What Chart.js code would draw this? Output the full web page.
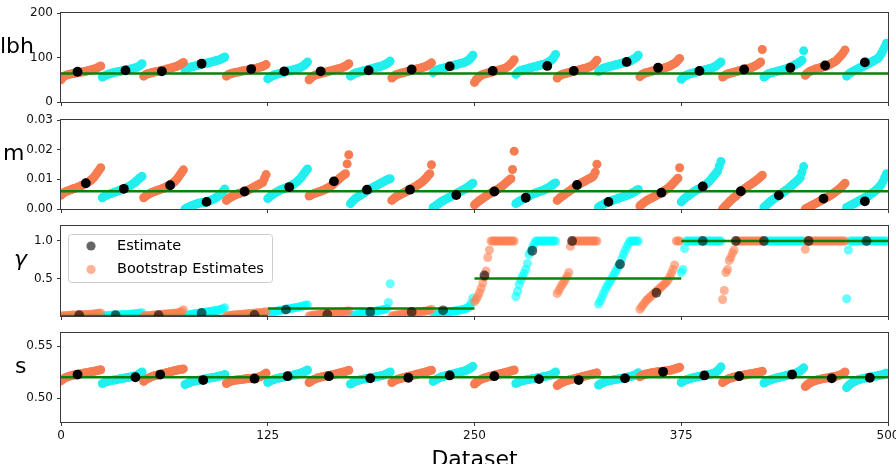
<!DOCTYPE html>
<html><head><meta charset="utf-8">
<script src="https://cdn.jsdelivr.net/npm/chart.js@4/dist/chart.umd.min.js"></script>
<style>
body{margin:0;background:#fff;width:896px;height:464px;overflow:hidden;position:relative;}
canvas{position:absolute;left:0;}
</style></head><body>
<canvas id="c1"></canvas><canvas id="c2"></canvas><canvas id="c3"></canvas><canvas id="c4"></canvas>
<script>
// ---------------- DATA ----------------
const X_TICKS = [0, 125, 250, 375, 500];
const GROUP_SIZE = 25;
const TRUE_SEG_X = [0, 125, 250, 375, 500];

const LBH_TICKS = [0, 100, 200];
const M_TICKS = [0, 0.01, 0.02, 0.03];
const GAMMA_TICKS = [0.5, 1.0];
const S_TICKS = [0.50, 0.55];

const LBH_TRUE = [64, 64, 64, 64];
const M_TRUE = [0.006, 0.006, 0.006, 0.006];
const GAMMA_TRUE = [0.0, 0.1, 0.5, 1.0];
const S_TRUE = [0.52, 0.52, 0.52, 0.52];

const LBH_BOOT = [
[50,55,58,60,61,62,63,64,64,65,66,66,67,68,68,69,70,71,72,73,74,75,77,79,81],
[56,58,60,62,63,64,65,66,67,68,68,69,70,71,71,72,73,74,75,76,77,78,80,83,86],
[58,61,63,64,65,66,67,68,68,69,70,71,72,73,74,75,76,77,78,79,80,82,84,86,89],
[72,75,77,78,79,80,81,82,83,84,85,86,87,87,88,89,90,91,92,93,94,95,97,99,101],
[58,61,63,64,65,66,67,67,68,69,70,70,71,72,72,73,74,75,76,77,78,79,80,82,84],
[52,55,57,59,61,62,63,64,65,66,67,68,69,70,71,72,73,74,75,76,78,80,83,86,90],
[50,54,57,59,61,62,63,64,65,66,67,68,69,70,71,72,73,74,75,76,77,79,81,83,86],
[58,61,63,65,66,67,68,69,70,71,72,73,74,75,76,77,78,79,80,81,83,84,86,89,92],
[54,57,60,62,63,64,65,66,67,68,69,70,71,72,73,74,75,76,77,78,79,81,83,85,88],
[66,69,71,73,74,75,76,77,78,79,80,81,82,83,84,85,86,87,88,89,91,93,96,100,105],
[44,50,54,57,60,62,63,64,65,66,67,68,69,70,71,72,73,74,75,77,79,82,86,90,95],
[62,66,69,71,72,73,74,75,76,77,78,79,80,81,82,83,84,85,86,88,90,93,96,101,107],
[54,58,60,62,63,64,65,66,67,68,69,70,71,72,73,74,75,76,77,78,80,82,85,89,94],
[68,72,74,76,77,78,79,80,81,82,83,84,85,86,87,88,89,90,91,92,94,96,98,101,105],
[57,61,63,65,66,67,68,69,70,71,72,73,74,75,76,77,78,79,81,83,85,87,90,94,98],
[51,55,58,60,62,63,64,65,66,67,68,69,70,71,72,73,74,75,76,77,79,81,84,87,90],
[56,59,61,63,64,65,66,67,68,69,70,71,72,73,74,75,76,77,78,80,82,84,87,90,118],
[56,59,62,64,65,66,67,68,69,70,71,72,73,74,75,77,78,80,82,84,86,88,91,94,115],
[60,64,67,69,71,72,74,75,76,77,78,79,80,81,83,85,87,89,91,94,98,102,106,111,117],
[58,62,65,67,69,71,73,75,77,78,80,82,84,86,88,90,92,94,96,98,103,109,116,124,132]
];
const LBH_EST_X = [10,39,61,85,115,135,157,186,212,235,261,294,310,342,361,386,413,441,462,486];
const LBH_EST_Y = [68,71,69,86,74,69,69,71,73,80,70,81,70,90,77,70,73,77,82,89];

const M_BOOT = [
[0.0046,0.0052,0.0056,0.0059,0.0061,0.0063,0.0065,0.0067,0.0069,0.0071,0.0073,0.0075,0.0078,0.0080,0.0083,0.0086,0.0089,0.0093,0.0097,0.0102,0.0108,0.0115,0.0123,0.0131,0.0139],
[0.0038,0.0042,0.0045,0.0048,0.0050,0.0052,0.0054,0.0056,0.0058,0.0060,0.0062,0.0064,0.0066,0.0068,0.0070,0.0073,0.0076,0.0079,0.0083,0.0087,0.0091,0.0096,0.0101,0.0106,0.0110],
[0.0038,0.0043,0.0047,0.0050,0.0053,0.0056,0.0058,0.0060,0.0062,0.0064,0.0066,0.0068,0.0070,0.0073,0.0076,0.0078,0.0081,0.0085,0.0089,0.0094,0.0100,0.0108,0.0116,0.0124,0.0132],
[0.0000,0.0003,0.0006,0.0009,0.0011,0.0013,0.0015,0.0017,0.0019,0.0020,0.0021,0.0022,0.0023,0.0024,0.0026,0.0028,0.0030,0.0033,0.0036,0.0039,0.0043,0.0048,0.0054,0.0060,0.0067],
[0.0029,0.0034,0.0038,0.0041,0.0044,0.0047,0.0049,0.0051,0.0053,0.0055,0.0057,0.0059,0.0061,0.0063,0.0066,0.0069,0.0072,0.0075,0.0078,0.0081,0.0084,0.0087,0.0090,0.0103,0.0116],
[0.0035,0.0040,0.0045,0.0049,0.0053,0.0056,0.0059,0.0062,0.0065,0.0067,0.0069,0.0071,0.0073,0.0075,0.0078,0.0081,0.0085,0.0089,0.0094,0.0099,0.0105,0.0112,0.0120,0.0128,0.0135],
[0.0044,0.0047,0.0050,0.0052,0.0054,0.0056,0.0058,0.0060,0.0062,0.0064,0.0067,0.0070,0.0073,0.0077,0.0081,0.0086,0.0091,0.0096,0.0101,0.0106,0.0111,0.0115,0.0119,0.0152,0.0183],
[0.0018,0.0025,0.0030,0.0035,0.0039,0.0043,0.0047,0.0050,0.0054,0.0058,0.0062,0.0065,0.0068,0.0071,0.0074,0.0077,0.0080,0.0083,0.0086,0.0089,0.0092,0.0095,0.0098,0.0100,0.0102],
[0.0029,0.0034,0.0038,0.0042,0.0045,0.0048,0.0051,0.0054,0.0057,0.0060,0.0063,0.0066,0.0069,0.0072,0.0075,0.0078,0.0082,0.0086,0.0090,0.0095,0.0100,0.0106,0.0113,0.0119,0.0149],
[0.0005,0.0009,0.0013,0.0017,0.0021,0.0025,0.0028,0.0031,0.0034,0.0037,0.0040,0.0043,0.0046,0.0049,0.0052,0.0055,0.0058,0.0061,0.0064,0.0067,0.0070,0.0074,0.0078,0.0083,0.0087],
[0.0014,0.0019,0.0024,0.0028,0.0032,0.0036,0.0040,0.0044,0.0048,0.0051,0.0054,0.0057,0.0060,0.0063,0.0066,0.0070,0.0074,0.0078,0.0083,0.0088,0.0093,0.0098,0.0102,0.0133,0.0195],
[0.0018,0.0022,0.0026,0.0029,0.0032,0.0035,0.0038,0.0041,0.0044,0.0047,0.0050,0.0052,0.0054,0.0056,0.0058,0.0060,0.0062,0.0064,0.0067,0.0070,0.0073,0.0077,0.0081,0.0085,0.0088],
[0.0029,0.0034,0.0039,0.0043,0.0047,0.0051,0.0055,0.0059,0.0063,0.0067,0.0071,0.0075,0.0079,0.0083,0.0086,0.0089,0.0092,0.0095,0.0098,0.0101,0.0104,0.0107,0.0112,0.0124,0.0151],
[0.0006,0.0010,0.0013,0.0016,0.0019,0.0022,0.0024,0.0026,0.0028,0.0030,0.0032,0.0034,0.0036,0.0038,0.0040,0.0042,0.0044,0.0046,0.0048,0.0050,0.0053,0.0056,0.0059,0.0063,0.0066],
[0.0010,0.0015,0.0020,0.0024,0.0028,0.0031,0.0034,0.0037,0.0040,0.0043,0.0046,0.0049,0.0052,0.0055,0.0058,0.0062,0.0066,0.0070,0.0075,0.0080,0.0086,0.0092,0.0098,0.0104,0.0139],
[0.0024,0.0030,0.0035,0.0040,0.0044,0.0048,0.0052,0.0056,0.0060,0.0063,0.0066,0.0069,0.0072,0.0075,0.0079,0.0083,0.0088,0.0094,0.0100,0.0107,0.0114,0.0121,0.0128,0.0145,0.0160],
[0.0000,0.0006,0.0012,0.0018,0.0024,0.0029,0.0034,0.0039,0.0044,0.0049,0.0054,0.0059,0.0063,0.0067,0.0071,0.0075,0.0079,0.0083,0.0087,0.0091,0.0095,0.0099,0.0104,0.0109,0.0114],
[0.0006,0.0011,0.0016,0.0021,0.0026,0.0030,0.0034,0.0038,0.0042,0.0046,0.0050,0.0054,0.0058,0.0062,0.0066,0.0070,0.0075,0.0080,0.0085,0.0090,0.0095,0.0100,0.0106,0.0124,0.0143],
[0.0000,0.0003,0.0006,0.0009,0.0012,0.0015,0.0018,0.0021,0.0024,0.0027,0.0030,0.0033,0.0036,0.0039,0.0042,0.0045,0.0049,0.0053,0.0057,0.0061,0.0065,0.0070,0.0075,0.0081,0.0087],
[0.0005,0.0008,0.0011,0.0014,0.0017,0.0020,0.0023,0.0026,0.0029,0.0032,0.0035,0.0038,0.0041,0.0044,0.0048,0.0052,0.0056,0.0060,0.0065,0.0070,0.0076,0.0083,0.0093,0.0106,0.0119]
];
const M_EST_X = [15,38,66,88,111,138,165,185,211,239,262,281,312,331,363,388,411,434,461,486];
const M_EST_Y = [0.0087,0.0068,0.0080,0.0024,0.0059,0.0074,0.0093,0.0065,0.0065,0.0047,0.0059,0.0038,0.0081,0.0024,0.0055,0.0076,0.0060,0.0046,0.0035,0.0026];

const GAMMA_BOOT = [
[0.000,0.002,0.004,0.006,0.008,0.010,0.011,0.012,0.013,0.014,0.015,0.016,0.017,0.018,0.019,0.020,0.021,0.022,0.023,0.025,0.027,0.029,0.032,0.036,0.040],
[0.000,0.002,0.004,0.006,0.008,0.010,0.012,0.013,0.014,0.015,0.016,0.017,0.018,0.019,0.020,0.021,0.022,0.024,0.026,0.028,0.030,0.033,0.036,0.040,0.045],
[0.000,0.002,0.004,0.006,0.008,0.010,0.012,0.014,0.016,0.018,0.020,0.022,0.024,0.026,0.028,0.030,0.032,0.034,0.036,0.038,0.041,0.045,0.050,0.060,0.085],
[0.005,0.010,0.015,0.020,0.024,0.028,0.032,0.035,0.038,0.041,0.044,0.047,0.050,0.053,0.056,0.059,0.062,0.066,0.070,0.074,0.078,0.083,0.090,0.098,0.110],
[0.000,0.003,0.006,0.009,0.012,0.014,0.016,0.018,0.020,0.022,0.024,0.026,0.028,0.030,0.032,0.034,0.036,0.038,0.040,0.042,0.044,0.046,0.048,0.052,0.056],
[0.020,0.030,0.040,0.048,0.055,0.061,0.067,0.072,0.077,0.081,0.085,0.089,0.093,0.097,0.101,0.105,0.109,0.113,0.117,0.121,0.126,0.131,0.137,0.143,0.150],
[0.000,0.004,0.008,0.012,0.015,0.018,0.021,0.024,0.027,0.030,0.032,0.034,0.036,0.038,0.040,0.042,0.044,0.046,0.048,0.050,0.053,0.056,0.060,0.065,0.070],
[0.000,0.005,0.010,0.015,0.020,0.024,0.028,0.032,0.036,0.040,0.044,0.048,0.052,0.056,0.060,0.064,0.068,0.072,0.076,0.080,0.085,0.090,0.100,0.180,0.430],
[0.000,0.004,0.008,0.012,0.016,0.020,0.023,0.026,0.029,0.032,0.035,0.038,0.041,0.044,0.047,0.050,0.053,0.056,0.059,0.062,0.065,0.068,0.072,0.080,0.090],
[0.010,0.015,0.020,0.025,0.030,0.034,0.038,0.042,0.046,0.050,0.054,0.058,0.062,0.066,0.070,0.074,0.078,0.083,0.088,0.094,0.100,0.110,0.130,0.170,0.240],
[0.19,0.22,0.26,0.31,0.37,0.44,0.52,0.60,0.78,0.88,1,1,1,1,1,1,1,1,1,1,1,1,1,1,1],
[0.26,0.33,0.42,0.48,0.53,0.57,0.62,0.70,0.82,0.86,0.91,0.96,1,1,1,1,1,1,1,1,1,1,1,1,1],
[0.30,0.34,0.38,0.42,0.45,0.49,0.53,0.58,0.93,1,1,1,1,1,1,1,1,1,1,1,1,1,1,1,1],
[0.16,0.20,0.25,0.30,0.35,0.39,0.43,0.46,0.50,0.54,0.58,0.62,0.66,0.70,0.76,0.82,0.87,0.92,0.96,1,1,1,1,1,1],
[0.09,0.12,0.15,0.18,0.21,0.23,0.25,0.27,0.29,0.31,0.33,0.35,0.37,0.39,0.41,0.43,0.45,0.48,0.52,0.57,0.62,0.68,1,1,1],
[0.58,0.62,0.90,1,1,1,1,1,1,1,1,1,1,1,1,1,1,1,1,1,1,1,1,1,1],
[0.22,0.34,0.58,0.62,0.74,0.78,0.84,0.88,1,1,1,1,1,1,1,1,1,1,1,1,1,1,1,1,1],
[1,1,1,1,1,1,1,1,1,1,1,1,1,1,1,1,1,1,1,1,1,1,1,1,1],
[0.89,1,1,1,1,1,1,1,1,1,1,1,1,1,1,1,1,1,1,1,1,1,1,1,1],
[0.23,0.88,1,1,1,1,1,1,1,1,1,1,1,1,1,1,1,1,1,1,1,1,1,1,1]
];
const GAMMA_EST_X = [11,33,59,85,117,136,161,187,212,231,256,285,309,338,360,388,408,425,452,487];
const GAMMA_EST_Y = [0.010,0.010,0.010,0.040,0.015,0.085,0.020,0.054,0.054,0.076,0.54,0.87,1.0,0.69,0.31,1.0,1.0,1.0,1.0,1.0];

const S_BOOT = [
[0.5165,0.5180,0.5190,0.5198,0.5204,0.5210,0.5215,0.5219,0.5222,0.5225,0.5228,0.5231,0.5234,0.5237,0.5240,0.5243,0.5246,0.5249,0.5252,0.5255,0.5258,0.5261,0.5264,0.5268,0.5272],
[0.5140,0.5148,0.5154,0.5159,0.5163,0.5167,0.5170,0.5173,0.5176,0.5179,0.5182,0.5185,0.5188,0.5191,0.5194,0.5197,0.5200,0.5203,0.5206,0.5209,0.5213,0.5218,0.5230,0.5240,0.5250],
[0.5160,0.5175,0.5185,0.5193,0.5200,0.5206,0.5211,0.5216,0.5220,0.5224,0.5228,0.5232,0.5236,0.5240,0.5244,0.5248,0.5252,0.5256,0.5260,0.5264,0.5268,0.5271,0.5274,0.5277,0.5280],
[0.5130,0.5138,0.5145,0.5151,0.5156,0.5160,0.5164,0.5168,0.5171,0.5174,0.5177,0.5180,0.5183,0.5186,0.5189,0.5192,0.5195,0.5198,0.5201,0.5204,0.5207,0.5211,0.5215,0.5220,0.5226],
[0.5140,0.5150,0.5158,0.5163,0.5167,0.5170,0.5173,0.5175,0.5177,0.5179,0.5181,0.5183,0.5185,0.5187,0.5189,0.5191,0.5193,0.5195,0.5197,0.5200,0.5204,0.5210,0.5218,0.5228,0.5240],
[0.5150,0.5160,0.5168,0.5175,0.5180,0.5185,0.5189,0.5193,0.5197,0.5200,0.5203,0.5206,0.5209,0.5212,0.5215,0.5218,0.5222,0.5226,0.5230,0.5235,0.5240,0.5246,0.5252,0.5260,0.5270],
[0.5150,0.5162,0.5171,0.5179,0.5186,0.5192,0.5197,0.5201,0.5205,0.5208,0.5211,0.5214,0.5217,0.5220,0.5223,0.5227,0.5231,0.5235,0.5239,0.5243,0.5247,0.5251,0.5256,0.5261,0.5267],
[0.5135,0.5145,0.5153,0.5160,0.5166,0.5171,0.5175,0.5179,0.5182,0.5185,0.5188,0.5191,0.5194,0.5197,0.5200,0.5203,0.5206,0.5209,0.5212,0.5216,0.5220,0.5226,0.5233,0.5241,0.5250],
[0.5150,0.5162,0.5170,0.5177,0.5183,0.5188,0.5192,0.5196,0.5200,0.5204,0.5208,0.5212,0.5216,0.5220,0.5224,0.5228,0.5232,0.5236,0.5240,0.5244,0.5248,0.5252,0.5257,0.5262,0.5267],
[0.5160,0.5172,0.5181,0.5189,0.5196,0.5202,0.5207,0.5212,0.5216,0.5220,0.5224,0.5228,0.5232,0.5236,0.5240,0.5244,0.5248,0.5252,0.5256,0.5261,0.5267,0.5274,0.5283,0.5294,0.5305],
[0.5135,0.5150,0.5162,0.5172,0.5180,0.5187,0.5193,0.5198,0.5203,0.5207,0.5211,0.5215,0.5219,0.5223,0.5227,0.5231,0.5235,0.5239,0.5243,0.5247,0.5251,0.5255,0.5259,0.5264,0.5270],
[0.5140,0.5148,0.5155,0.5161,0.5166,0.5170,0.5173,0.5176,0.5179,0.5182,0.5185,0.5188,0.5191,0.5194,0.5197,0.5200,0.5203,0.5206,0.5209,0.5212,0.5216,0.5221,0.5228,0.5238,0.5250],
[0.5120,0.5132,0.5142,0.5150,0.5157,0.5163,0.5168,0.5173,0.5177,0.5181,0.5185,0.5189,0.5193,0.5197,0.5201,0.5205,0.5209,0.5213,0.5217,0.5221,0.5225,0.5229,0.5233,0.5237,0.5242],
[0.5125,0.5135,0.5143,0.5150,0.5156,0.5161,0.5165,0.5169,0.5172,0.5175,0.5178,0.5181,0.5184,0.5187,0.5190,0.5193,0.5196,0.5199,0.5202,0.5206,0.5210,0.5215,0.5222,0.5231,0.5242],
[0.5205,0.5215,0.5222,0.5228,0.5232,0.5236,0.5239,0.5242,0.5245,0.5248,0.5250,0.5252,0.5254,0.5256,0.5258,0.5260,0.5262,0.5264,0.5267,0.5270,0.5274,0.5278,0.5283,0.5289,0.5296],
[0.5150,0.5160,0.5168,0.5175,0.5181,0.5186,0.5190,0.5194,0.5198,0.5202,0.5205,0.5208,0.5211,0.5214,0.5217,0.5220,0.5223,0.5227,0.5231,0.5235,0.5240,0.5250,0.5262,0.5280,0.5300],
[0.5150,0.5162,0.5172,0.5180,0.5187,0.5193,0.5198,0.5202,0.5206,0.5209,0.5212,0.5215,0.5218,0.5221,0.5224,0.5227,0.5230,0.5233,0.5236,0.5239,0.5242,0.5245,0.5248,0.5253,0.5258],
[0.5145,0.5155,0.5163,0.5170,0.5176,0.5181,0.5186,0.5190,0.5194,0.5198,0.5202,0.5206,0.5210,0.5214,0.5218,0.5222,0.5226,0.5230,0.5234,0.5239,0.5245,0.5252,0.5262,0.5275,0.5290],
[0.5110,0.5125,0.5137,0.5147,0.5155,0.5162,0.5168,0.5173,0.5177,0.5181,0.5184,0.5187,0.5190,0.5193,0.5196,0.5199,0.5202,0.5205,0.5208,0.5212,0.5216,0.5221,0.5228,0.5238,0.5250],
[0.5100,0.5118,0.5132,0.5144,0.5154,0.5162,0.5169,0.5175,0.5180,0.5184,0.5188,0.5191,0.5194,0.5197,0.5200,0.5203,0.5206,0.5209,0.5212,0.5215,0.5218,0.5222,0.5227,0.5233,0.5240]
];
const S_EST_X = [10,45,60,86,117,137,162,187,210,235,262,289,313,341,364,389,410,442,466,489];
const S_EST_Y = [0.5226,0.5200,0.5226,0.5173,0.5186,0.5210,0.5210,0.5190,0.5195,0.5217,0.5210,0.5182,0.5173,0.5190,0.5252,0.5217,0.5210,0.5226,0.5190,0.5195];

// ---------------- STYLE / LAYOUT ----------------
const FONT = '"DejaVu Sans", "Liberation Sans", sans-serif';
const ORANGE = '#f77b50', CYAN = '#22eeee';
const ORANGE_A = 'rgba(255,127,80,0.6)', CYAN_A = 'rgba(0,255,255,0.6)';
const PLOT_LEFT = 61, PLOT_RIGHT_PAD = 8;
const BOOT_R = 4.5, EST_R = 4.9;

function bootPoints(boot, parity) {
  const pts = [];
  boot.forEach((grp, g) => {
    if (g % 2 !== parity) return;
    grp.forEach((v, j) => pts.push({x: g * GROUP_SIZE + j, y: v}));
  });
  return pts;
}
function truePoints(vals) {
  const pts = [];
  vals.forEach((v, k) => {
    pts.push({x: TRUE_SEG_X[k], y: v}, {x: TRUE_SEG_X[k + 1], y: v}, {x: TRUE_SEG_X[k + 1], y: null});
  });
  return pts;
}
function estPoints(xs, ys) { return xs.map((x, i) => ({x, y: ys[i]})); }

const decoPlugin = {
  id: 'deco',
  afterDatasetsDraw(chart, args, o) {
    const {ctx, chartArea: a} = chart;
    ctx.save();
    ctx.strokeStyle = '#3a3a3a'; ctx.lineWidth = 1;
    ctx.strokeRect(Math.round(a.left) - 0.5, Math.round(a.top) - 0.5,
                   Math.round(a.right) - Math.round(a.left) + 1, Math.round(a.bottom) - Math.round(a.top) + 1);
    ctx.fillStyle = '#000';
    ctx.font = (o.italic ? 'italic ' : '') + '22px ' + FONT;
    ctx.textAlign = 'left'; ctx.textBaseline = 'alphabetic';
    ctx.fillText(o.label, o.lx, a.top + o.ly);
    if (o.legend) {
      const bx = 68, by = a.top + 8, bw = 204, bh = 48;
      ctx.beginPath();
      ctx.roundRect(bx + 0.5, by + 0.5, bw, bh, 3);
      ctx.fillStyle = 'rgba(255,255,255,0.8)'; ctx.fill();
      ctx.strokeStyle = '#cccccc'; ctx.stroke();
      const items = [['Estimate', 'rgba(0,0,0,0.6)'], ['Bootstrap Estimates', ORANGE_A]];
      items.forEach((it, i) => {
        const cy = by + 12 + i * 23.5;
        ctx.beginPath(); ctx.arc(91, cy, 4.6, 0, Math.PI * 2);
        ctx.fillStyle = it[1]; ctx.fill();
        ctx.fillStyle = '#000'; ctx.font = '14.5px ' + FONT;
        ctx.textBaseline = 'middle';
        ctx.fillText(it[0], 117, cy);
      });
    }
    if (o.title) {
      ctx.font = '22px ' + FONT; ctx.fillStyle = '#000';
      ctx.textAlign = 'center'; ctx.textBaseline = 'alphabetic';
      ctx.fillText(o.title, (a.left + a.right) / 2, chart.height + 2);
    }
    ctx.restore();
  }
};

const PANELS = [
  {id: 'c1', top: 0, h: 112, plotTop: 13, xH: 10, boot: LBH_BOOT, ex: LBH_EST_X, ey: LBH_EST_Y, tv: LBH_TRUE,
   ymin: 0, ymax: 200, yt: LBH_TICKS, fmt: v => String(v), label: 'lbh', lx: 0, transparent: false, xlabels: false},
  {id: 'c2', top: 112, h: 107, plotTop: 120, xH: 10, boot: M_BOOT, ex: M_EST_X, ey: M_EST_Y, tv: M_TRUE,
   ymin: 0, ymax: 0.03, yt: M_TICKS, fmt: v => v.toFixed(2), label: 'm', lx: 3, transparent: false, xlabels: false},
  {id: 'c3', top: 219, h: 107, plotTop: 226, xH: 10, boot: GAMMA_BOOT, ex: GAMMA_EST_X, ey: GAMMA_EST_Y, tv: GAMMA_TRUE,
   ymin: 0, ymax: 1.2, yt: GAMMA_TICKS, fmt: v => v.toFixed(1), label: 'γ', lx: 14, italic: true, transparent: true, xlabels: false, legend: true},
  {id: 'c4', top: 326, h: 138, plotTop: 333, xH: 42, boot: S_BOOT, ex: S_EST_X, ey: S_EST_Y, tv: S_TRUE,
   ymin: 0.477, ymax: 0.5625, yt: S_TICKS, fmt: v => v.toFixed(2), label: 's', lx: 15, transparent: false, xlabels: true, title: 'Dataset'}
];

PANELS.forEach(p => {
  const cv = document.getElementById(p.id);
  cv.width = 896; cv.height = p.h;
  cv.style.top = p.top + 'px'; cv.style.width = '896px'; cv.style.height = p.h + 'px';
  const tickFont = {family: FONT, size: 12};
  new Chart(cv, {
    type: 'scatter',
    data: {datasets: [
      {data: bootPoints(p.boot, 0), backgroundColor: p.transparent ? ORANGE_A : ORANGE, pointRadius: BOOT_R, borderWidth: 0, order: 3, clip: 0},
      {data: bootPoints(p.boot, 1), backgroundColor: p.transparent ? CYAN_A : CYAN, pointRadius: BOOT_R, borderWidth: 0, order: 3, clip: 0},
      {type: 'line', data: truePoints(p.tv), borderColor: '#0a820a', borderWidth: 2.5, pointRadius: 0, spanGaps: false, fill: false, order: 2, clip: 0},
      {data: estPoints(p.ex, p.ey), backgroundColor: p.transparent ? 'rgba(0,0,0,0.6)' : '#000', pointRadius: EST_R, borderWidth: 0, order: 1, clip: 0}
    ]},
    options: {
      responsive: false, animation: false, devicePixelRatio: 1, events: [],
      layout: {padding: {top: p.plotTop - p.top, right: PLOT_RIGHT_PAD, left: 0, bottom: 0}},
      plugins: {legend: {display: false}, tooltip: {enabled: false},
        deco: {label: p.label, lx: p.lx, ly: 40, italic: p.italic, legend: p.legend, title: p.title}},
      scales: {
        x: {type: 'linear', min: 0, max: 500,
          afterBuildTicks: s => { s.ticks = X_TICKS.map(v => ({value: v})); },
          afterFit: s => { s.height = p.xH; s.paddingLeft = 0; s.paddingRight = 0; },
          ticks: {display: p.xlabels, font: tickFont, color: '#111', padding: 3, maxRotation: 0, autoSkip: false},
          grid: {display: true, drawOnChartArea: false, drawTicks: true, tickLength: 4, color: '#3a3a3a'},
          border: {display: false}},
        y: {type: 'linear', min: p.ymin, max: p.ymax,
          afterBuildTicks: s => { s.ticks = p.yt.map(v => ({value: v})); },
          afterFit: s => { s.width = PLOT_LEFT; s.paddingTop = 0; s.paddingBottom = 0; },
          ticks: {font: tickFont, color: '#111', padding: 4, callback: v => p.fmt(v)},
          grid: {display: true, drawOnChartArea: false, drawTicks: true, tickLength: 4, color: '#3a3a3a'},
          border: {display: false}}
      }
    },
    plugins: [decoPlugin]
  });
});
</script>
</body></html>
